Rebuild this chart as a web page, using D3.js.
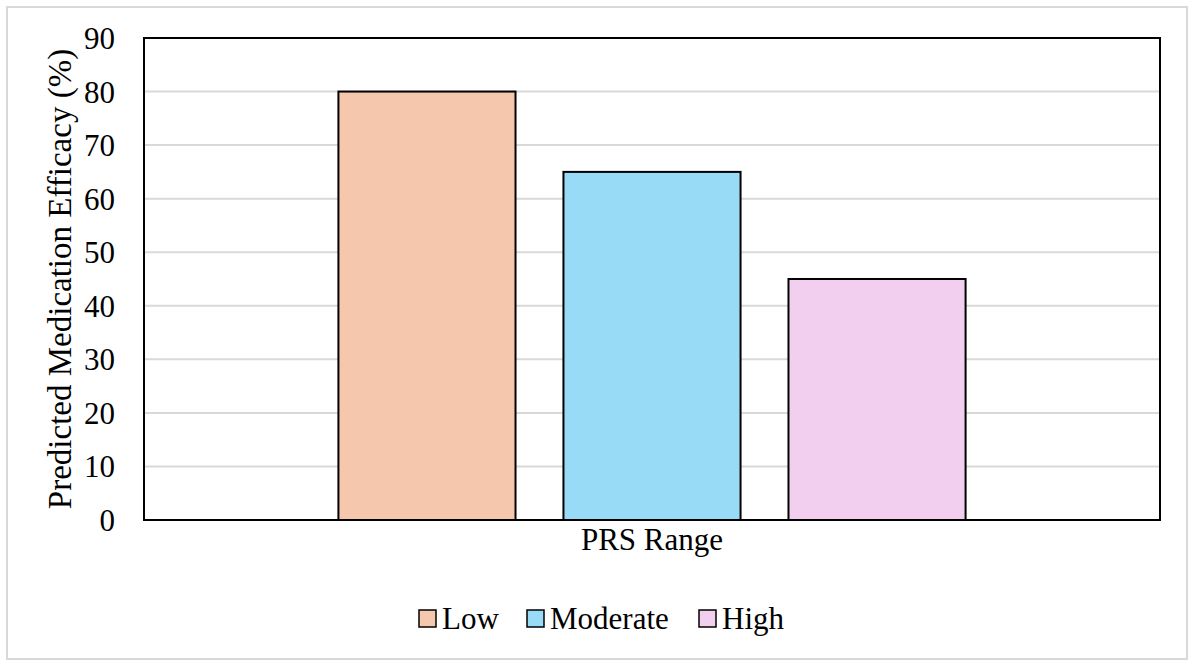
<!DOCTYPE html>
<html>
<head>
<meta charset="utf-8">
<script src="https://cdn.jsdelivr.net/npm/d3@7"></script>
</head>
<body style="margin:0">
<svg id="chart" width="1188" height="660"></svg>
<script>
// Data
const categories = ['Low', 'Moderate', 'High']
const values = [80, 65, 45]
const colors = ['#F5C7AC', '#98DBF6', '#F2CEEF']
const yTicks = [0, 10, 20, 30, 40, 50, 60, 70, 80, 90]
const groupLabel = 'PRS Range'
const yTitle = 'Predicted Medication Efficacy (%)'

const font = 'Liberation Serif'
const fontSize = 31

const width = 1188, height = 660
const margin = { top: 38, right: 28, bottom: 140, left: 144 }
const plotW = width - margin.left - margin.right
const plotH = height - margin.top - margin.bottom

const svg = d3.select('#chart')

// outer chart border
svg.append('rect')
  .attr('x', 7).attr('y', 7)
  .attr('width', width - 8).attr('height', height - 8)
  .attr('fill', 'none')
  .attr('stroke', '#d9d9d9')
  .attr('stroke-width', 2)

const g = svg.append('g')
  .attr('transform', `translate(${margin.left},${margin.top})`)

// scales
const y = d3.scaleLinear().domain([0, 90]).range([plotH, 0])
const outer = d3.scaleBand().domain([groupLabel]).range([0, plotW]).paddingInner(0).paddingOuter(0.31)
const inner = d3.scaleBand().domain(categories).range([0, outer.bandwidth()]).paddingInner(0.213)

// gridlines
g.append('g')
  .selectAll('line')
  .data(yTicks.filter(d => d > 0))
  .join('line')
  .attr('x1', 0).attr('x2', plotW)
  .attr('y1', d => y(d)).attr('y2', d => y(d))
  .attr('stroke', '#d9d9d9')
  .attr('stroke-width', 2)

// bars
g.append('g')
  .selectAll('rect')
  .data(values)
  .join('rect')
  .attr('x', (d, i) => outer(groupLabel) + inner(categories[i]))
  .attr('y', d => y(d))
  .attr('width', inner.bandwidth())
  .attr('height', d => plotH - y(d))
  .attr('fill', (d, i) => colors[i])
  .attr('stroke', '#000')
  .attr('stroke-width', 2)

// frame
g.append('rect')
  .attr('width', plotW).attr('height', plotH)
  .attr('fill', 'none')
  .attr('stroke', '#000')
  .attr('stroke-width', 2)

// y axis
const yAxis = g.append('g')
  .call(d3.axisLeft(y).tickValues(yTicks).tickSize(0).tickPadding(29))
  .attr('font-family', font)
yAxis.select('.domain').remove()
yAxis.selectAll('text')
  .attr('font-family', font)
  .attr('font-size', fontSize)
  .attr('dy', '0.34em')

// x axis label
const xAxis = g.append('g')
  .attr('transform', `translate(0,${plotH})`)
  .call(d3.axisBottom(outer).tickSize(0).tickPadding(8))
  .attr('font-family', font)
xAxis.select('.domain').remove()
xAxis.selectAll('text')
  .attr('font-family', font)
  .attr('font-size', fontSize)

// y title
svg.append('text')
  .attr('transform', `translate(71,${margin.top + plotH / 2}) rotate(-90)`)
  .attr('text-anchor', 'middle')
  .attr('font-family', font)
  .attr('font-size', 33)
  .text(yTitle)

// legend
const legendX = [419, 527, 699]
const legend = svg.append('g')
  .selectAll('g')
  .data(categories)
  .join('g')
  .attr('transform', (d, i) => `translate(${legendX[i]},610)`)
legend.append('rect')
  .attr('width', 17).attr('height', 17)
  .attr('fill', (d, i) => colors[i])
  .attr('stroke', '#000')
  .attr('stroke-width', 1.5)
legend.append('text')
  .attr('x', 23).attr('y', 19)
  .attr('font-family', font)
  .attr('font-size', fontSize)
  .text(d => d)
</script>
</body>
</html>
